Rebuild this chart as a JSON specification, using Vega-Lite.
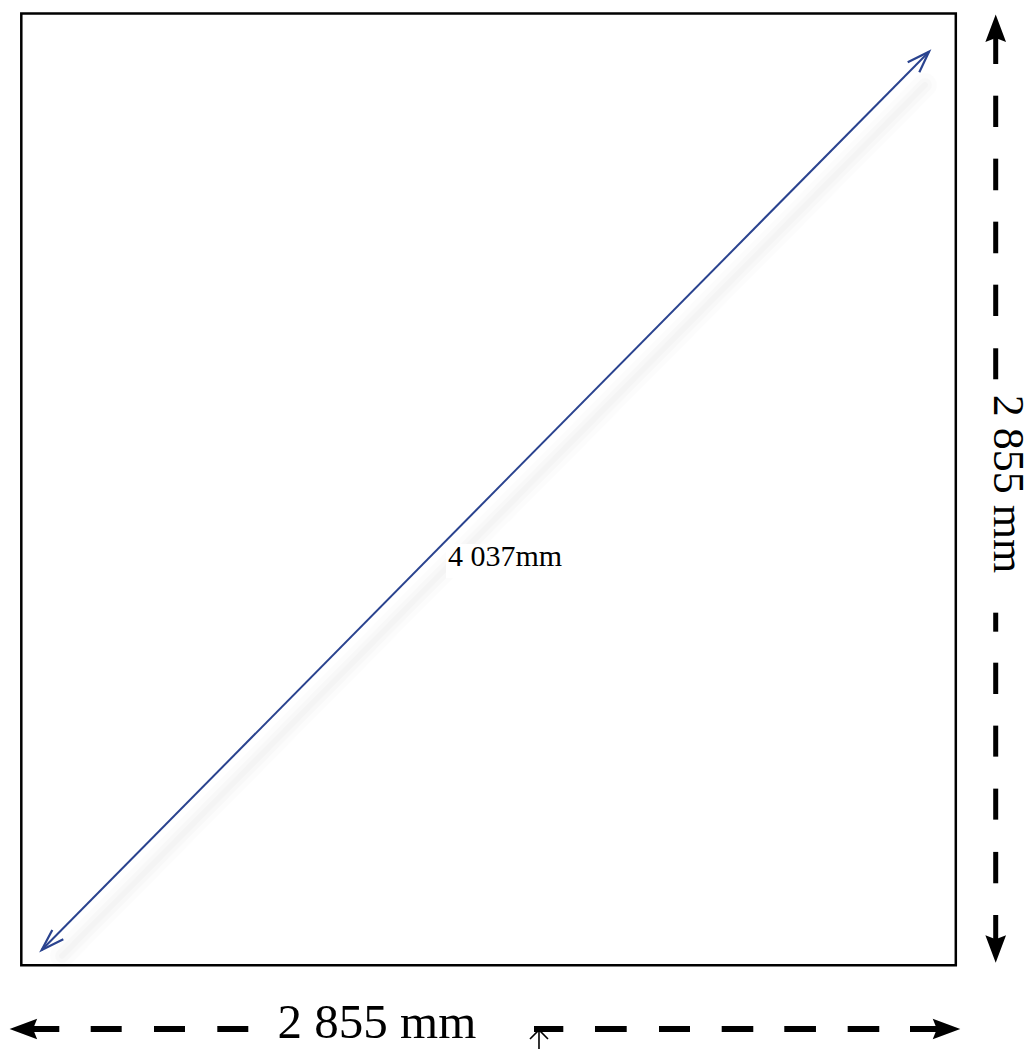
{
  "$schema": "https://vega.github.io/schema/vega-lite/v6.json",
  "width": 1034,
  "height": 1049,
  "padding": 0,
  "autosize": {"type": "none"},
  "background": "white",
  "config": {"view": {"stroke": null}},
  "datasets": {
    "frame": [{"x": 0, "y": 0, "x2": 2855, "y2": 2855}],
    "shadow": [{"x": 124.3, "y": 27.9, "x2": 2760.9, "y2": 2640.6}],
    "diag": [{"x": 62.3, "y": 45.9, "x2": 2773.2, "y2": 2740.4}],
    "chevrons": [
      {"id": "top", "k": 1, "x": 2708.1, "y": 2708.6},
      {"id": "top", "k": 2, "x": 2773.2, "y": 2740.4},
      {"id": "top", "k": 3, "x": 2743.5, "y": 2678.6},
      {"id": "bottom", "k": 1, "x": 94.7, "y": 105.9},
      {"id": "bottom", "k": 2, "x": 62.3, "y": 45.9},
      {"id": "bottom", "k": 3, "x": 128.3, "y": 78.0}
    ],
    "marker": [
      {"id": "m", "k": 1, "x": 1554.1, "y": -221.1},
      {"id": "m", "k": 2, "x": 1581.6, "y": -194.1},
      {"id": "m", "k": 3, "x": 1609.1, "y": -221.1}
    ],
    "markerStem": [{"x": 1581.6, "y": -194.1, "x2": 1581.6, "y2": -251.0}],
    "box": [{"x": 1297.5, "y": 1161.7, "x2": 1682.4, "y2": 1263.7}],
    "diagLabel": [{"x": 1303.6, "y": 1198.6, "text": "4 037mm"}],
    "vdash": [
      {"x": 2976.9, "y": 2785.0, "x2": 2976.9, "y2": 2703.6},
      {"x": 2976.9, "y": 2608.5, "x2": 2976.9, "y2": 2514.6},
      {"x": 2976.9, "y": 2419.6, "x2": 2976.9, "y2": 2324.8},
      {"x": 2976.9, "y": 2230.6, "x2": 2976.9, "y2": 2135.8},
      {"x": 2976.9, "y": 2041.6, "x2": 2976.9, "y2": 1947.7},
      {"x": 2976.9, "y": 1850.8, "x2": 2976.9, "y2": 1757.8},
      {"x": 2976.9, "y": 1057.7, "x2": 2976.9, "y2": 1000.7},
      {"x": 2976.9, "y": 907.7, "x2": 2976.9, "y2": 813.8},
      {"x": 2976.9, "y": 718.9, "x2": 2976.9, "y2": 625.9},
      {"x": 2976.9, "y": 529.9, "x2": 2976.9, "y2": 436.9},
      {"x": 2976.9, "y": 340.1, "x2": 2976.9, "y2": 246.0},
      {"x": 2976.9, "y": 150.9, "x2": 2976.9, "y2": 75.0}
    ],
    "hdash": [
      {"x": 35.0, "y": -191.1, "x2": 116.1, "y2": -191.1},
      {"x": 212.0, "y": -191.1, "x2": 306.7, "y2": -191.1},
      {"x": 405.4, "y": -191.1, "x2": 500.1, "y2": -191.1},
      {"x": 598.8, "y": -191.1, "x2": 693.5, "y2": -191.1},
      {"x": 1566.3, "y": -191.1, "x2": 1655.9, "y2": -191.1},
      {"x": 1752.7, "y": -191.1, "x2": 1849.6, "y2": -191.1},
      {"x": 1948.2, "y": -191.1, "x2": 2042.9, "y2": -191.1},
      {"x": 2139.8, "y": -191.1, "x2": 2236.3, "y2": -191.1},
      {"x": 2331.0, "y": -191.1, "x2": 2427.8, "y2": -191.1},
      {"x": 2524.7, "y": -191.1, "x2": 2621.2, "y2": -191.1},
      {"x": 2715.1, "y": -191.1, "x2": 2800.0, "y2": -191.1}
    ],
    "heads": [
      {"dir": "up", "x": 2976.9, "y": 2810.6},
      {"dir": "down", "x": 2976.9, "y": 48.9},
      {"dir": "left", "x": 6.3, "y": -191.1},
      {"dir": "right", "x": 2826.6, "y": -191.1}
    ],
    "bottomLabel": [{"x": 1086.4, "y": -218.1, "text": "2 855 mm"}],
    "rightLabel": [{"x": 2973.2, "y": 1443.7, "text": "2 855 mm"}]
  },
  "encoding": {
    "x": {"field": "x", "type": "quantitative", "scale": {"domain": [-65.07, 3093.9], "nice": false, "zero": false}, "axis": null},
    "y": {"field": "y", "type": "quantitative", "scale": {"domain": [-251.1, 2895.5], "nice": false, "zero": false}, "axis": null}
  },
  "layer": [
    {
      "data": {"name": "frame"},
      "mark": {"type": "rect", "fill": null, "stroke": "black", "strokeWidth": 2.5},
      "encoding": {"x2": {"field": "x2"}, "y2": {"field": "y2"}}
    },
    {
      "data": {"name": "shadow"},
      "mark": {"type": "rule", "color": "#000000", "opacity": 0.012, "strokeWidth": 24, "strokeCap": "round"},
      "encoding": {"x2": {"field": "x2"}, "y2": {"field": "y2"}}
    },
    {
      "data": {"name": "shadow"},
      "mark": {"type": "rule", "color": "#000000", "opacity": 0.015, "strokeWidth": 14, "strokeCap": "round"},
      "encoding": {"x2": {"field": "x2"}, "y2": {"field": "y2"}}
    },
    {
      "data": {"name": "shadow"},
      "mark": {"type": "rule", "color": "#000000", "opacity": 0.015, "strokeWidth": 6, "strokeCap": "round"},
      "encoding": {"x2": {"field": "x2"}, "y2": {"field": "y2"}}
    },
    {
      "data": {"name": "diag"},
      "mark": {"type": "rule", "color": "#2a438f", "strokeWidth": 2},
      "encoding": {"x2": {"field": "x2"}, "y2": {"field": "y2"}}
    },
    {
      "data": {"name": "chevrons"},
      "mark": {"type": "line", "color": "#2a438f", "strokeWidth": 2.2, "strokeJoin": "miter"},
      "encoding": {"detail": {"field": "id"}, "order": {"field": "k", "type": "quantitative"}}
    },
    {
      "data": {"name": "box"},
      "mark": {"type": "rect", "fill": "white"},
      "encoding": {"x2": {"field": "x2"}, "y2": {"field": "y2"}}
    },
    {
      "data": {"name": "diagLabel"},
      "mark": {"type": "text", "font": "Liberation Serif", "fontSize": 30, "align": "left", "baseline": "alphabetic", "color": "black"},
      "encoding": {"text": {"field": "text"}}
    },
    {
      "data": {"name": "vdash"},
      "mark": {"type": "rule", "color": "black", "strokeWidth": 5},
      "encoding": {"x2": {"field": "x2"}, "y2": {"field": "y2"}}
    },
    {
      "data": {"name": "hdash"},
      "mark": {"type": "rule", "color": "black", "strokeWidth": 6},
      "encoding": {"x2": {"field": "x2"}, "y2": {"field": "y2"}}
    },
    {
      "data": {"name": "heads"},
      "mark": {"type": "point", "filled": true, "color": "black", "opacity": 1, "size": 760, "strokeWidth": 0},
      "encoding": {
        "shape": {
          "field": "dir",
          "type": "nominal",
          "scale": {
            "domain": ["up", "down", "left", "right"],
            "range": [
              "M0,-1L0.75,1L0,0.7L-0.75,1Z",
              "M0,1L0.75,-1L0,-0.7L-0.75,-1Z",
              "M-1,0L1,0.75L0.7,0L1,-0.75Z",
              "M1,0L-1,0.75L-0.7,0L-1,-0.75Z"
            ]
          },
          "legend": null
        }
      }
    },
    {
      "data": {"name": "markerStem"},
      "mark": {"type": "rule", "color": "black", "strokeWidth": 1.6},
      "encoding": {"x2": {"field": "x2"}, "y2": {"field": "y2"}}
    },
    {
      "data": {"name": "marker"},
      "mark": {"type": "line", "color": "black", "strokeWidth": 1.6},
      "encoding": {"detail": {"field": "id"}, "order": {"field": "k", "type": "quantitative"}}
    },
    {
      "data": {"name": "bottomLabel"},
      "mark": {"type": "text", "font": "Liberation Serif", "fontSize": 49, "align": "center", "baseline": "alphabetic", "color": "black"},
      "encoding": {"text": {"field": "text"}}
    },
    {
      "data": {"name": "rightLabel"},
      "mark": {"type": "text", "font": "Liberation Serif", "fontSize": 44, "align": "center", "baseline": "alphabetic", "angle": 90, "color": "black"},
      "encoding": {"text": {"field": "text"}}
    }
  ]
}
